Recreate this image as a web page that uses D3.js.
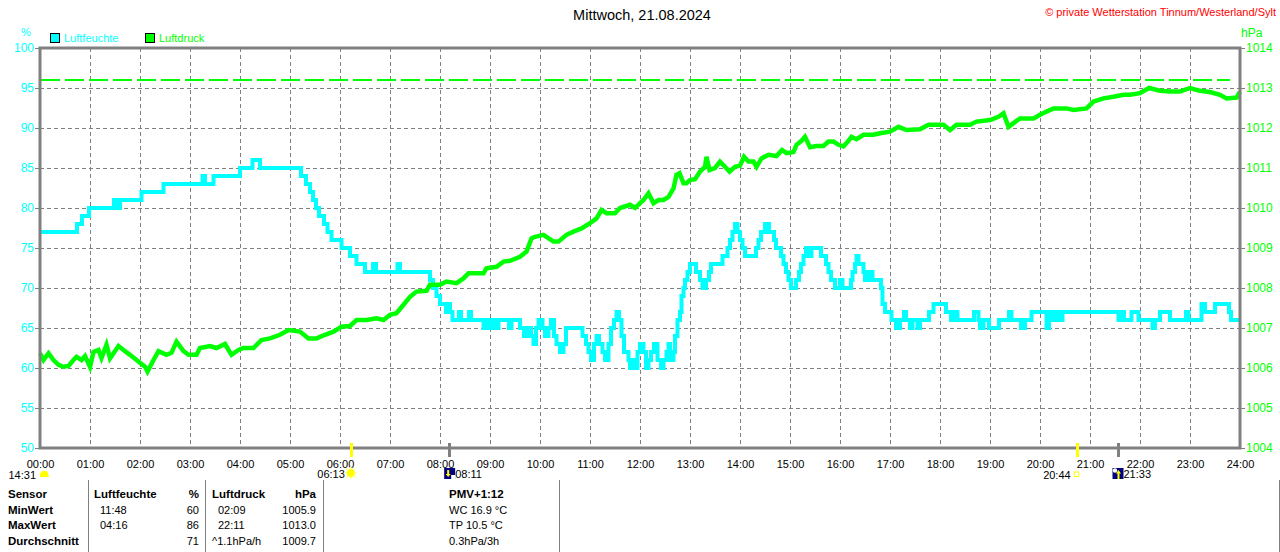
<!DOCTYPE html>
<html><head><meta charset="utf-8">
<script src="https://cdn.jsdelivr.net/npm/d3@7"></script>
<style>
body{margin:0;background:#fff;}
svg{display:block;font-family:"Liberation Sans",Arial,sans-serif;}
</style></head>
<body>
<svg id="c" width="1280" height="552"></svg>
<script>
// ---------- DATA ----------
const title = "Mittwoch, 21.08.2024";
const copyright = "\u00A9 private Wetterstation Tinnum/Westerland/Sylt";
const seriesNames = ["Luftfeuchte", "Luftdruck"];
const hourTicks = d3.range(0, 25);
const humTicks = d3.range(50, 101, 5);
const presTicks = d3.range(1004, 1015, 1);

// Humidity (%) - time in hours, step values
const humTimes = [0,0.74,0.84,0.98,1.48,1.56,1.6,2.03,2.47,3.25,3.3,3.47,4.0,4.25,4.4,5.22,5.32,5.4,5.46,5.52,5.58,5.68,5.75,5.83,6.03,6.2,6.33,6.5,6.66,6.72,7.15,7.2,7.8,7.86,7.93,8.0,8.12,8.17,8.2,8.25,8.38,8.42,8.58,8.62,8.87,8.93,9.0,9.06,9.13,9.17,9.38,9.43,9.6,9.68,9.75,9.82,9.87,9.92,9.97,10.05,10.1,10.17,10.22,10.28,10.33,10.4,10.47,10.52,10.85,10.92,10.97,11.02,11.08,11.13,11.18,11.25,11.3,11.37,11.42,11.48,11.53,11.58,11.63,11.68,11.77,11.8,11.85,11.9,11.95,12.0,12.07,12.12,12.17,12.22,12.28,12.35,12.42,12.47,12.53,12.57,12.6,12.67,12.7,12.75,12.8,12.83,12.87,12.9,12.95,13.0,13.12,13.2,13.25,13.32,13.38,13.42,13.65,13.75,13.8,13.85,13.9,13.95,14.0,14.05,14.1,14.32,14.37,14.42,14.5,14.58,14.68,14.72,14.82,14.87,14.92,14.97,15.02,15.12,15.18,15.22,15.27,15.32,15.4,15.43,15.62,15.72,15.77,15.82,15.9,16.0,16.05,16.22,16.25,16.3,16.33,16.37,16.47,16.5,16.57,16.65,16.82,16.85,16.9,17.03,17.12,17.2,17.28,17.32,17.4,17.45,17.55,17.6,17.78,17.87,18.12,18.22,18.3,18.35,18.68,18.77,18.8,18.87,18.98,19.18,19.38,19.43,19.62,19.7,19.83,20.13,20.18,20.25,20.32,20.37,20.45,21.57,21.63,21.68,21.83,21.97,22.25,22.3,22.4,22.6,22.92,22.97,23.23,23.3,23.5,23.78,23.82,24.0];
const humValues = [77,78,79,80,81,80,81,82,83,84,83,84,85,86,85,84,83,82,81,80,79,78,77,76,75,74,73,72,73,72,73,72,71,70,69,68,67,68,67,66,67,66,67,66,65,66,65,66,65,66,65,66,65,64,65,64,63,65,66,65,64,65,66,64,63,62,63,65,64,63,62,61,63,64,63,62,61,63,65,66,67,66,64,62,61,60,61,60,62,63,62,60,61,62,63,61,60,61,62,63,61,62,64,66,67,69,70,71,72,73,72,71,70,71,72,73,74,75,76,77,78,77,76,75,74,75,76,77,78,77,76,75,74,73,72,71,70,71,72,73,74,75,74,75,74,73,72,71,70,71,70,71,72,73,74,73,72,71,72,71,70,68,67,66,65,66,67,66,65,66,65,66,67,68,67,66,67,66,67,66,65,66,65,66,67,66,65,66,67,65,67,66,67,66,67,66,67,66,67,66,65,66,67,66,67,66,68,67,68,67,66,66];

// Pressure (hPa)
const presTimes = [0,0.07,0.17,0.27,0.37,0.47,0.57,0.67,0.73,0.83,0.9,1.0,1.07,1.17,1.23,1.33,1.4,1.57,1.7,1.8,1.93,2.1,2.15,2.27,2.37,2.53,2.63,2.73,2.87,2.97,3.13,3.2,3.4,3.53,3.7,3.83,3.97,4.07,4.27,4.43,4.6,4.8,4.97,5.2,5.37,5.53,5.7,5.87,6.03,6.2,6.33,6.53,6.73,6.87,7.0,7.13,7.27,7.4,7.53,7.73,7.8,8.0,8.13,8.33,8.47,8.57,8.87,8.93,9.13,9.27,9.4,9.6,9.73,9.83,9.9,10.07,10.27,10.37,10.53,10.67,10.83,11.0,11.13,11.23,11.33,11.5,11.6,11.8,11.9,12.0,12.07,12.17,12.27,12.37,12.47,12.57,12.67,12.73,12.79,12.87,12.93,13.0,13.1,13.2,13.3,13.33,13.39,13.5,13.6,13.7,13.79,13.9,14.0,14.08,14.17,14.27,14.33,14.43,14.57,14.73,14.84,14.93,15.07,15.13,15.23,15.3,15.4,15.53,15.67,15.77,15.87,15.97,16.07,16.17,16.23,16.33,16.47,16.67,16.8,17.0,17.17,17.33,17.6,17.77,18.07,18.2,18.33,18.6,18.73,19.0,19.17,19.27,19.37,19.6,19.87,20.0,20.13,20.27,20.53,20.67,20.93,21.07,21.27,21.47,21.67,21.8,22.0,22.18,22.4,22.6,22.8,23.0,23.2,23.4,23.6,23.73,23.93,24.0];
const presValues = [1006.37,1006.2,1006.37,1006.2,1006.08,1006.03,1006.05,1006.2,1006.28,1006.2,1006.3,1006.03,1006.4,1006.45,1006.25,1006.58,1006.24,1006.55,1006.42,1006.33,1006.2,1006.03,1005.91,1006.2,1006.42,1006.33,1006.38,1006.66,1006.42,1006.33,1006.33,1006.5,1006.55,1006.5,1006.6,1006.33,1006.45,1006.5,1006.5,1006.7,1006.74,1006.83,1006.95,1006.91,1006.74,1006.74,1006.83,1006.91,1007.03,1007.05,1007.2,1007.2,1007.24,1007.2,1007.33,1007.37,1007.58,1007.78,1007.91,1007.93,1008.08,1008.08,1008.16,1008.12,1008.24,1008.37,1008.37,1008.49,1008.53,1008.66,1008.68,1008.78,1008.91,1009.24,1009.28,1009.33,1009.16,1009.16,1009.33,1009.41,1009.49,1009.62,1009.74,1009.95,1009.87,1009.87,1010.0,1010.08,1010.0,1010.12,1010.2,1010.37,1010.12,1010.2,1010.2,1010.28,1010.49,1010.83,1010.87,1010.62,1010.62,1010.7,1010.72,1010.91,1011.03,1011.28,1010.95,1011.0,1011.16,1011.03,1010.91,1011.03,1011.06,1011.28,1011.16,1011.16,1011.03,1011.24,1011.33,1011.3,1011.45,1011.37,1011.4,1011.58,1011.68,1011.78,1011.52,1011.55,1011.55,1011.66,1011.66,1011.58,1011.54,1011.68,1011.78,1011.72,1011.83,1011.83,1011.87,1011.91,1012.03,1011.95,1011.97,1012.08,1012.08,1011.95,1012.08,1012.08,1012.16,1012.2,1012.28,1012.37,1012.03,1012.24,1012.24,1012.33,1012.41,1012.49,1012.49,1012.45,1012.49,1012.66,1012.74,1012.78,1012.83,1012.83,1012.87,1013.0,1012.93,1012.91,1012.91,1013.0,1012.93,1012.9,1012.83,1012.74,1012.76,1012.91];
const presRefLine = 1013.2;

// Sun / moon events (hours)
const eventTimes = [6 + 13/60, 8 + 11/60, 20 + 44/60, 21 + 33/60];
const eventLabels = ["06:13", "08:11", "20:44", "21:33"];
const eventKinds = ["sunrise", "moonset", "sunset", "moonrise"];
const moonLabel = "14:31";

// Table
const tableHeader = ["Sensor", "Luftfeuchte", "%", "Luftdruck", "hPa", "PMV+1:12"];
const tableRowNames = ["MinWert", "MaxWert", "Durchschnitt"];
const humTimesCol = ["11:48", "04:16", ""];
const humValCol = ["60", "86", "71"];
const presTimesCol = ["02:09", "22:11", "^1.1hPa/h"];
const presValCol = ["1005.9", "1013.0", "1009.7"];
const extraCol = ["WC 16.9 \u00B0C", "TP 10.5 \u00B0C", "0.3hPa/3h"];

// ---------- DRAW ----------
const CYAN = "#00FFFF", GREEN = "#00FF00", GRAY = "#808080";
const svg = d3.select("#c");
svg.append("rect").attr("width",1280).attr("height",552).attr("fill","#fff");

const x = d3.scaleLinear().domain([0,24]).range([40,1240]);
const yH = d3.scaleLinear().domain([50,100]).range([448,48]);
const yP = d3.scaleLinear().domain([1004,1014]).range([448,48]);

// grid
const grid = svg.append("g").attr("stroke", GRAY).attr("stroke-width",1).attr("stroke-dasharray","4,3");
grid.selectAll("line.v").data(hourTicks.slice(1,-1)).join("line")
  .attr("x1", d=>x(d)+0.5).attr("x2", d=>x(d)+0.5).attr("y1",48).attr("y2",448);
grid.selectAll("line.h").data(humTicks.slice(1,-1)).join("line")
  .attr("x1",40).attr("x2",1240).attr("y1", d=>yH(d)+0.5).attr("y2", d=>yH(d)+0.5);

// reference dashed green line
svg.append("line").attr("x1",41).attr("x2",1230).attr("y1",yP(presRefLine)).attr("y2",yP(presRefLine))
  .attr("stroke",GREEN).attr("stroke-width",2).attr("stroke-dasharray","19,5");

// humidity
const humData = humTimes.map((t,i)=>[t,humValues[i]]);
svg.append("path").datum(humData)
  .attr("d", d3.line().x(d=>x(d[0])).y(d=>yH(d[1])).curve(d3.curveStepAfter))
  .attr("fill","none").attr("stroke",CYAN).attr("stroke-width",4).attr("stroke-linejoin","miter");

// pressure
const presData = presTimes.map((t,i)=>[t,presValues[i]]);
svg.append("path").datum(presData)
  .attr("d", d3.line().x(d=>x(d[0])).y(d=>yP(d[1])))
  .attr("fill","none").attr("stroke",GREEN).attr("stroke-width",4.5).attr("stroke-linejoin","miter");

// frame
const frame = svg.append("g").attr("stroke",GRAY).attr("stroke-width",3).attr("fill","none");
frame.append("rect").attr("x",40).attr("y",48).attr("width",1200).attr("height",400);

// axes
const fontSize = 11;
const left = svg.append("g").attr("transform","translate(40,0)")
  .call(d3.axisLeft(yH).tickValues(humTicks).tickSize(5).tickPadding(1).tickFormat(d3.format("d")));
left.select(".domain").remove();
left.selectAll("line").attr("stroke",GRAY);
left.selectAll("text").attr("fill",CYAN).attr("font-size",12).attr("font-family","Liberation Sans, Arial, sans-serif");

const right = svg.append("g").attr("transform","translate(1240,0)")
  .call(d3.axisRight(yP).tickValues(presTicks).tickSize(5).tickPadding(1).tickFormat(d3.format("d")));
right.select(".domain").remove();
right.selectAll("line").attr("stroke",GRAY);
right.selectAll("text").attr("fill",GREEN).attr("font-size",12).attr("font-family","Liberation Sans, Arial, sans-serif");

const bottom = svg.append("g").attr("transform","translate(0,448)")
  .call(d3.axisBottom(x).tickValues(hourTicks).tickSize(0).tickPadding(12)
    .tickFormat(d=>String(d).padStart(2,"0")+":00"));
bottom.select(".domain").remove();
bottom.selectAll("text").attr("fill","#000").attr("font-size",fontSize).attr("font-family","Liberation Sans, Arial, sans-serif");

// axis units
svg.append("text").attr("x",26).attr("y",36).attr("text-anchor","middle").attr("fill",CYAN).attr("font-size",11).text("%");
svg.append("text").attr("x",1241).attr("y",37).attr("fill",GREEN).attr("font-size",12).text("hPa");

// title & copyright
svg.append("text").attr("x",642).attr("y",20).attr("text-anchor","middle").attr("font-size",14.5).attr("fill","#000").text(title);
svg.append("text").attr("x",1276).attr("y",16).attr("text-anchor","end").attr("font-size",11).attr("fill","#FF0000").text(copyright);

// legend
const legCols = [CYAN, GREEN];
const legX = [50, 145];
seriesNames.forEach((n,i)=>{
  svg.append("rect").attr("x",legX[i]+0.5).attr("y",33.5).attr("width",9).attr("height",9)
    .attr("fill",legCols[i]).attr("stroke","#000").attr("stroke-width",1);
  svg.append("text").attr("x",legX[i]+14).attr("y",42).attr("fill",legCols[i]).attr("font-size",11).text(n);
});

// event ticks on x axis
eventTimes.forEach((t,i)=>{
  const isSun = eventKinds[i].startsWith("sun");
  svg.append("line").attr("x1",Math.round(x(t))+0.5).attr("x2",Math.round(x(t))+0.5).attr("y1",443).attr("y2",457)
    .attr("stroke", isSun ? "#FFFF00" : GRAY).attr("stroke-width",3);
});

// event labels & icons
const ev = svg.append("g").attr("font-size",11).attr("fill","#000");
ev.append("text").attr("x",36).attr("y",479).attr("text-anchor","end").text(moonLabel);
ev.append("path").attr("d","M40,477 L40,474 Q41,471 44,471 Q47,470 48,473 L49,477 Z").attr("fill","#FFFF00");

eventTimes.forEach((t,i)=>{
  const cx = x(t);
  const k = eventKinds[i];
  if (k === "sunrise") {
    const g = svg.append("g").attr("transform",`translate(${cx},473)`);
    for (let a=0;a<8;a++){
      const ang = a*Math.PI/4;
      g.append("line").attr("x1",Math.cos(ang)*4).attr("y1",Math.sin(ang)*4)
        .attr("x2",Math.cos(ang)*6.5).attr("y2",Math.sin(ang)*6.5).attr("stroke","#FFFF99").attr("stroke-width",1.5);
    }
    g.append("circle").attr("r",4).attr("fill","#FFFF00");
    ev.append("text").attr("x",cx-6).attr("y",478).attr("text-anchor","end").text(eventLabels[i]);
  } else if (k === "sunset") {
    svg.append("rect").attr("x",cx-2.5).attr("y",472).attr("width",4.5).attr("height",4.5)
      .attr("fill","none").attr("stroke","#FFFF00").attr("stroke-width",1);
    ev.append("text").attr("x",cx-6).attr("y",479).attr("text-anchor","end").text(eventLabels[i]);
  } else {
    const sx = cx - 5;
    const g = svg.append("g");
    g.append("rect").attr("x",sx).attr("y",468).attr("width",11).attr("height",11).attr("fill","#000080");
    if (k === "moonset") {
      g.append("path").attr("d",`M${sx+3},470 L${sx+3},474 L${sx+1.5},474 L${sx+4},477 L${sx+6.5},474 L${sx+5},474 L${sx+5},470 Z`).attr("fill","#FFFF00");
      g.append("rect").attr("x",sx+7).attr("y",475).attr("width",4).attr("height",4).attr("fill","#fff");
    } else {
      g.append("circle").attr("cx",sx+2.5).attr("cy",470.5).attr("r",2.2).attr("fill","#fff");
      g.append("path").attr("d",`M${sx+6},470 L${sx+3.5},473.5 L${sx+5},473.5 L${sx+5},479 L${sx+7},479 L${sx+7},473.5 L${sx+8.5},473.5 Z`).attr("fill","#FFFF00");
    }
    ev.append("text").attr("x",sx+11).attr("y",478).text(eventLabels[i]);
  }
});

// table
const tbl = svg.append("g").attr("fill","#000");
const sepX = [88, 205, 323, 559, 1279];
sepX.forEach(sx=>{
  tbl.append("line").attr("x1",sx+0.5).attr("x2",sx+0.5).attr("y1",480).attr("y2",552).attr("stroke",GRAY).attr("stroke-width",1);
});
const rowY = [498, 513.5, 529, 545];
const hdr = tbl.append("g").attr("font-weight","bold").attr("font-size",11.5);
hdr.append("text").attr("x",8).attr("y",rowY[0]).text(tableHeader[0]);
hdr.append("text").attr("x",94).attr("y",rowY[0]).text(tableHeader[1]);
hdr.append("text").attr("x",199).attr("y",rowY[0]).attr("text-anchor","end").text(tableHeader[2]);
hdr.append("text").attr("x",212).attr("y",rowY[0]).text(tableHeader[3]);
hdr.append("text").attr("x",316).attr("y",rowY[0]).attr("text-anchor","end").text(tableHeader[4]);
hdr.append("text").attr("x",449).attr("y",rowY[0]).text(tableHeader[5]);
tableRowNames.forEach((n,i)=>{
  const y = rowY[i+1];
  tbl.append("text").attr("x",8).attr("y",y).attr("font-weight","bold").attr("font-size",11.5).text(n);
  const body = tbl.append("g").attr("font-size",11);
  body.append("text").attr("x",100).attr("y",y).text(humTimesCol[i]);
  body.append("text").attr("x",199).attr("y",y).attr("text-anchor","end").text(humValCol[i]);
  body.append("text").attr("x", presTimesCol[i].startsWith("^") ? 212 : 218).attr("y",y).text(presTimesCol[i]);
  body.append("text").attr("x",316).attr("y",y).attr("text-anchor","end").text(presValCol[i]);
  body.append("text").attr("x",449).attr("y",y).text(extraCol[i]);
});
</script>
</body></html>
